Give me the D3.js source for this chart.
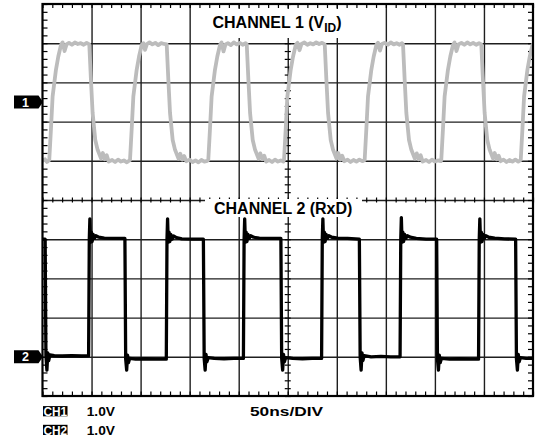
<!DOCTYPE html>
<html>
<head>
<meta charset="utf-8">
<script src="https://cdn.jsdelivr.net/npm/d3@7"></script>
<style>
html,body{margin:0;padding:0;background:#fff;}
svg{display:block;}
text{font-family:"Liberation Sans",Arial,Helvetica,sans-serif;font-weight:bold;}
</style>
</head>
<body>
<script>
// ---------------- DATA ----------------
// time axis: 10 divisions x 50 ns
const timeGrid = [0, 50, 100, 150, 200, 250, 300, 350, 400, 450, 500];
// vertical axis: 10 divisions (1.0 V / div)
const divGrid = [-5, -4, -3, -2, -1, 0, 1, 2, 3, 4, 5];
const channelOffsets = [2.5, -4];            // ground marker position (divisions) of CH1, CH2
const channelTitles = ["CHANNEL 1 (V", "CHANNEL 2 (RxD)"];
const scaleLabels = ["CH1", "CH2"];
const scaleValues = ["1.0V", "1.0V"];
const timebaseLabel = "50ns/DIV";

// CH1 : differential input V_ID  [time ns, volts]
const ch1 = [
 [0,-1.50],[2.5,-1.46],[4.5,-1.53],
 [6.9,-1.48],[8.6,-0.70],[10.3,0.14],[13.7,0.82],[16.1,1.16],[18.9,1.46],[20.5,1.52],[22.5,1.30],[24.5,1.47],[27,1.51],[30,1.46],[33,1.52],[36,1.48],[39,1.50],[42,1.46],[45,1.51],
 [47.7,1.47],[49.4,0.56],[51.1,-0.28],[53.8,-0.97],[56.2,-1.22],[59.7,-1.44],[61.5,-1.30],[63.5,-1.46],[65.5,-1.36],[67.5,-1.52],[71,-1.48],[74,-1.53],[77,-1.47],[80,-1.52],[83,-1.49],[86,-1.54],[88.5,-1.49],
 [89.2,-1.48],[90.9,-0.70],[92.6,0.14],[96,0.82],[98.4,1.16],[101.2,1.46],[103,1.50],[104.5,1.33],[106.5,1.48],[109,1.52],[112,1.47],[115,1.51],[118,1.45],[121,1.50],[124,1.48],
 [126.6,1.47],[128.3,0.56],[130,-0.28],[132.7,-0.97],[135.1,-1.22],[138.6,-1.44],[140.5,-1.32],[142.5,-1.47],[144.5,-1.38],[146.5,-1.51],[150,-1.47],[153,-1.53],[156,-1.49],[159,-1.54],[162,-1.48],[165,-1.52],[168,-1.50],
 [169,-1.48],[170.7,-0.70],[172.4,0.14],[175.8,0.82],[178.2,1.16],[181,1.46],[182.5,1.52],[184.5,1.29],[186.5,1.47],[189,1.50],[192,1.45],[195,1.52],[198,1.47],[201,1.51],[204,1.46],[207,1.50],
 [208.2,1.47],[209.9,0.56],[211.6,-0.28],[214.3,-0.97],[216.7,-1.22],[220.2,-1.44],[222,-1.31],[224,-1.46],[226,-1.37],[228,-1.52],[231,-1.48],[234,-1.53],[237,-1.47],[240,-1.52],[243,-1.49],[245.5,-1.52],
 [246.2,-1.48],[247.9,-0.70],[249.6,0.14],[253,0.82],[255.4,1.16],[258.2,1.46],[260,1.51],[262,1.32],[264,1.48],[267,1.52],[270,1.46],[273,1.50],[276,1.47],[279,1.52],[282,1.48],[285,1.51],
 [287.7,1.47],[289.4,0.56],[291.1,-0.28],[293.8,-0.97],[296.2,-1.22],[299.7,-1.44],[301.5,-1.30],[303.5,-1.47],[305.5,-1.37],[307.5,-1.51],[311,-1.47],[314,-1.53],[317,-1.48],[320,-1.52],[323,-1.47],[326,-1.51],
 [328.4,-1.48],[330.1,-0.70],[331.8,0.14],[335.2,0.82],[337.6,1.16],[340.4,1.46],[342,1.51],[344,1.31],[346,1.48],[349,1.51],[352,1.46],[355,1.52],[358,1.47],[361,1.50],[364,1.46],[366.5,1.50],
 [367.5,1.47],[369.2,0.56],[370.9,-0.28],[373.6,-0.97],[376,-1.22],[379.5,-1.44],[381.5,-1.31],[383.5,-1.46],[385.5,-1.36],[387.5,-1.52],[391,-1.48],[394,-1.53],[397,-1.47],[400,-1.52],[403,-1.49],[406,-1.51],
 [406.5,-1.48],[408.2,-0.70],[409.9,0.14],[413.3,0.82],[415.7,1.16],[418.5,1.46],[420,1.52],[422,1.30],[424,1.47],[427,1.51],[430,1.46],[433,1.52],[436,1.47],[439,1.51],[442,1.46],[445,1.50],
 [447.3,1.47],[449,0.56],[450.7,-0.28],[453.4,-0.97],[455.8,-1.22],[459.3,-1.44],[461,-1.30],[463,-1.46],[465,-1.37],[467,-1.51],[470,-1.47],[473,-1.53],[476,-1.48],[479,-1.52],[482,-1.47],[485,-1.52],
 [487.5,-1.48],[489.2,-0.70],[490.9,0.14],[494.3,0.82],[496.7,1.16],[499.5,1.46],[500,1.47]
];

// CH2 : receiver output RxD  [time ns, volts]
const ch2 = [
 [0,3.0],[2.7,3.0],
 [3.5,0.03],[4.5,-0.34],[5.4,0.10],[6.3,-0.10],[7.6,0.05],[12,0.03],[20,0.02],[30,0.03],[40,0.02],[47,0.03],
 [47.7,3.0],[48.3,3.52],[49.0,2.92],[49.8,3.18],[50.6,2.94],[51.6,3.12],[52.9,3.02],[54.4,3.09],[57.4,3.05],[63,3.03],[72,3.02],[84,3.02],
 [84.8,-0.06],[85.8,-0.34],[86.7,0.04],[87.6,-0.15],[88.9,-0.04],[95,-0.06],[105,-0.05],[115,-0.06],[126.2,-0.06],
 [126.9,3.0],[127.5,3.52],[128.2,2.92],[129,3.18],[129.8,2.94],[130.8,3.12],[132.1,3.0],[133.6,3.08],[136.6,3.04],[142,3.01],[152,3.0],[164,3.0],
 [164.8,-0.04],[165.8,-0.34],[166.7,0.06],[167.6,-0.13],[168.9,-0.02],[175,-0.04],[185,-0.05],[195,-0.04],[204.8,-0.04],
 [205.5,3.0],[206.1,3.52],[206.8,2.92],[207.6,3.18],[208.4,2.94],[209.4,3.12],[210.7,3.02],[212.2,3.09],[215.2,3.05],[221,3.03],[231,3.02],[243,3.02],
 [243.8,-0.04],[244.8,-0.34],[245.7,0.06],[246.6,-0.13],[247.9,-0.02],[255,-0.04],[265,-0.05],[275,-0.04],[284.5,-0.04],
 [285.2,3.0],[285.8,3.52],[286.5,2.92],[287.3,3.18],[288.1,2.94],[289.1,3.12],[290.4,3.02],[291.9,3.09],[294.9,3.05],[301,3.03],[311,3.02],[323,3.0],
 [323.8,0.0],[324.8,-0.34],[325.7,0.10],[326.6,-0.10],[327.9,0.03],[335,0.0],[345,0.01],[355,0.0],[364.5,0.0],
 [365.2,3.0],[365.8,3.55],[366.5,2.92],[367.3,3.18],[368.1,2.94],[369.1,3.12],[370.4,3.02],[371.9,3.09],[374.9,3.05],[381,3.02],[391,3.0],[401.8,3.0],
 [402.6,-0.06],[403.6,-0.34],[404.5,0.04],[405.4,-0.15],[406.7,-0.04],[415,-0.06],[425,-0.05],[435,-0.06],[444.5,-0.06],
 [445.2,3.0],[445.8,3.52],[446.5,2.92],[447.3,3.18],[448.1,2.94],[449.1,3.12],[450.4,3.02],[451.9,3.09],[454.9,3.05],[461,3.03],[471,3.01],[482.3,3.0],
 [483.1,-0.04],[484.1,-0.34],[485,0.06],[485.9,-0.13],[487.2,-0.02],[493,-0.04],[500,-0.04]
];

// ---------------- DRAW ----------------
const W = 537, H = 446;
const svg = d3.select("body").append("svg").attr("width", W).attr("height", H);
svg.append("rect").attr("width", W).attr("height", H).attr("fill", "#fff");

const x = d3.scaleLinear().domain([0, 500]).range([42.5, 533]);
const y = d3.scaleLinear().domain([-5, 5]).range([396, 4]);
const plotW = x(500) - x(0), plotH = y(-5) - y(5);

function clean(g) { g.select(".domain").remove(); g.selectAll("text").remove(); }

// major grid
const gridX = svg.append("g").attr("transform", `translate(0,${y(-5)})`)
  .call(d3.axisBottom(x).tickValues(timeGrid.slice(1, -1)).tickSize(-plotH).tickFormat(""));
clean(gridX);
const gridY = svg.append("g").attr("transform", `translate(${x(0)},0)`)
  .call(d3.axisLeft(y).tickValues(divGrid.slice(1, -1)).tickSize(-plotW).tickFormat(""));
clean(gridY);
svg.selectAll("g line").attr("stroke", "#1e1e1e").attr("stroke-width", 1.4);

// minor ticks
const minorT = d3.range(0, 500.1, 10);
const minorV = d3.range(-5, 5.01, 0.2);
function tk(axis, tr) {
  const g = svg.append("g").attr("class", "mt").attr("transform", tr).call(axis);
  clean(g);
  g.selectAll("line").attr("stroke", "#000").attr("stroke-width", 1.2);
}
tk(d3.axisBottom(x).tickValues(minorT).tickSize(4).tickFormat(""), `translate(0,${y(5)})`);
tk(d3.axisTop(x).tickValues(minorT).tickSize(4.5).tickFormat(""), `translate(0,${y(-5)})`);
tk(d3.axisRight(y).tickValues(minorV).tickSize(5).tickFormat(""), `translate(${x(0)},0)`);
tk(d3.axisLeft(y).tickValues(minorV).tickSize(5).tickFormat(""), `translate(${x(500)},0)`);
tk(d3.axisBottom(x).tickValues(minorT).tickSize(2.5).tickFormat(""), `translate(0,${y(0)})`);
tk(d3.axisTop(x).tickValues(minorT).tickSize(2.5).tickFormat(""), `translate(0,${y(0)})`);
tk(d3.axisRight(y).tickValues(minorV).tickSize(3).tickFormat(""), `translate(${x(250)},0)`);
tk(d3.axisLeft(y).tickValues(minorV).tickSize(3).tickFormat(""), `translate(${x(250)},0)`);

// traces
svg.append("clipPath").attr("id", "plotclip").append("rect")
  .attr("x", x(0)).attr("y", y(5)).attr("width", plotW).attr("height", plotH);
const line1 = d3.line().x(d => x(d[0])).y(d => y(channelOffsets[0] + d[1]));
const line2 = d3.line().x(d => x(d[0])).y(d => y(channelOffsets[1] + d[1]));
const traces = svg.append("g").attr("clip-path", "url(#plotclip)");
traces.append("path").datum(ch1).attr("d", line1).attr("fill", "none")
  .attr("stroke", "#bcbcbc").attr("stroke-width", 3.8).attr("stroke-linejoin", "round").attr("stroke-linecap", "round");
traces.append("path").datum(ch2).attr("d", line2).attr("fill", "none")
  .attr("stroke", "#000").attr("stroke-width", 3.3).attr("stroke-linejoin", "round").attr("stroke-linecap", "round");

// border
svg.append("rect").attr("x", x(0)).attr("y", y(5)).attr("width", plotW).attr("height", plotH)
  .attr("fill", "none").attr("stroke", "#000").attr("stroke-width", 2.2);

// channel titles with white backing
svg.append("rect").attr("x", 206).attr("y", 9).attr("width", 149).attr("height", 29).attr("fill", "#fff");
const t1 = svg.append("text").attr("x", 212.5).attr("y", 28).attr("font-size", 16).attr("fill", "#000");
t1.append("tspan").text(channelTitles[0]);
t1.append("tspan").attr("font-size", 12).attr("dy", 4).text("ID");
t1.append("tspan").attr("dy", -4).text(")");

svg.append("rect").attr("x", 205).attr("y", 199).attr("width", 157).attr("height", 18).attr("fill", "#fff");
svg.append("text").attr("x", 214).attr("y", 213.5).attr("font-size", 16).attr("fill", "#000").text(channelTitles[1]);

// ground markers
channelOffsets.forEach((off, i) => {
  const cy = y(off);
  svg.append("path")
    .attr("d", `M14,${cy - 6.5}H38.5L43,${cy}L38.5,${cy + 6.5}H14Z`).attr("fill", "#000");
  svg.append("text").attr("x", 25.5).attr("y", cy + 4.5).attr("text-anchor", "middle")
    .attr("font-size", 12.5).attr("fill", "#fff").text(String(i + 1));
});

// bottom readouts
scaleLabels.forEach((lab, i) => {
  const base = 415.7 + i * 18.7;
  svg.append("rect").attr("x", 43).attr("y", base - 9.6).attr("width", 24.5).attr("height", 10.2).attr("fill", "#000");
  svg.append("text").attr("x", 43.4).attr("y", base + 0.2).attr("font-size", 13.6).attr("fill", "#fff")
    .attr("textLength", 23.7).attr("lengthAdjust", "spacingAndGlyphs").text(lab);
  svg.append("text").attr("x", 86.7).attr("y", base + 0.2).attr("font-size", 13.6).attr("fill", "#000")
    .attr("textLength", 28.3).attr("lengthAdjust", "spacingAndGlyphs").text(scaleValues[i]);
});
svg.append("text").attr("x", 250).attr("y", 415.9).attr("font-size", 13.6).attr("fill", "#000")
  .attr("textLength", 73).attr("lengthAdjust", "spacingAndGlyphs").text(timebaseLabel);
</script>
</body>
</html>
